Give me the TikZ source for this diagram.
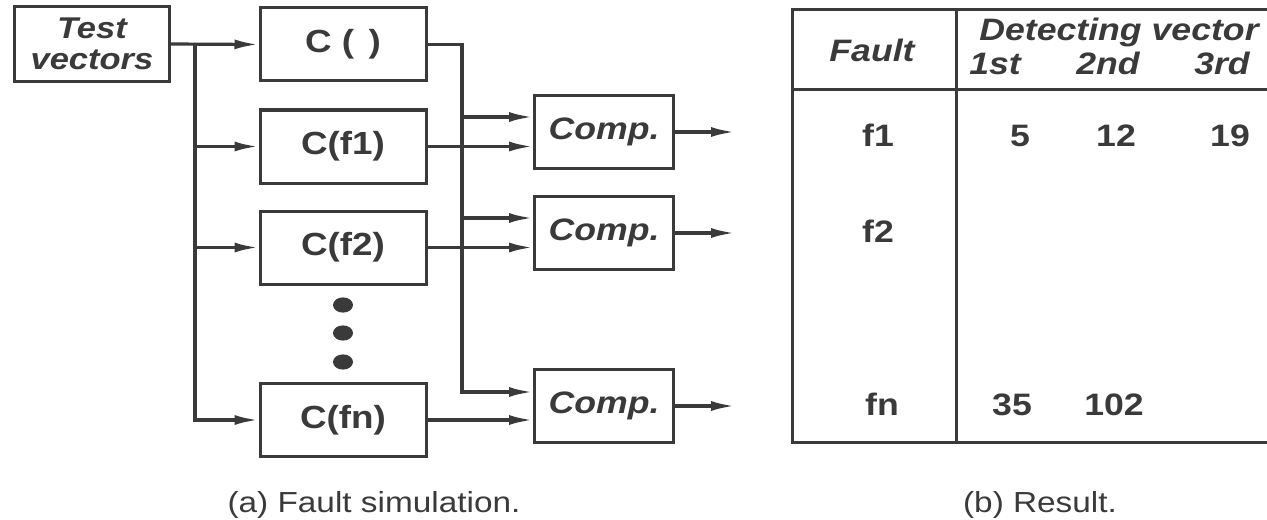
\documentclass[tikz,border=0pt]{standalone}
\usepackage{fontspec}
\setmainfont[FakeStretch=1.15]{Liberation Sans}
\usetikzlibrary{arrows.meta,positioning,calc}
\definecolor{ink}{HTML}{3A3A3A}

\begin{document}
\begin{tikzpicture}[x=0.5pt,y=-0.5pt,>={Latex[length=12pt,width=5pt]},
  wire/.style={->,line width=1.6pt,draw=ink},
  rule/.style={line width=1.5pt,draw=ink},
  blk/.style={draw=ink,line width=1.5pt,fill=white,minimum width=83pt,minimum height=36.5pt,
    inner sep=0pt,text=ink,font=\fontsize{16}{18}\selectfont\bfseries},
  cmp/.style={blk,minimum width=69.5pt,font=\fontsize{15.5}{18}\selectfont\bfseries\itshape},
  cell/.style={anchor=base,inner sep=0pt,text=ink,font=\fontsize{15.5}{18}\selectfont\bfseries},
  hd/.style={cell,font=\fontsize{15.5}{18}\selectfont\bfseries\itshape},
  captxt/.style={anchor=base,inner sep=0pt,text=ink,font=\fontsize{14.5}{17}\selectfont}]
\useasboundingbox (0,0) rectangle (1267,519);
% (a) fault simulation
\node[blk,minimum width=77.5pt,minimum height=37.5pt,align=center,
  font=\fontsize{15}{15.5}\selectfont\bfseries\itshape] (tv) at (92,44) {Test\\vectors};
\node[blk] (c0) at (343,44.5) {C (\hspace{0.45em})};
\node[blk] (c1) at (343,146.5) {C(f1)};
\node[blk] (c2) at (343,247.5) {C(f2)};
\node[blk] (cn) at (343,420) {C(fn)};
\foreach \y in {305,333,362}
  \fill[ink] (343,\y) ellipse [x radius=5pt,y radius=3.8pt];
\node[cmp] (k1) at (604,132) {Comp.};
\node[cmp] (k2) at (604,233) {Comp.};
\node[cmp] (k3) at (604,406) {Comp.};
\coordinate (bus) at (195,44);
\coordinate (ref) at (462,44.5);
\coordinate (k1a) at ([yshift=7.5pt]k1.west);
\coordinate (k2a) at ([yshift=7.5pt]k2.west);
\coordinate (k3a) at ([yshift=7pt]k3.west);
\coordinate (o1) at (735,132);
\coordinate (o2) at (735,233);
\coordinate (o3) at (735,406);
\draw[wire] (tv.east) -- (c0.west);
\draw[wire] (bus) |- (cn.west);
\draw[wire] (bus |- c1.west) -- (c1.west);
\draw[wire] (bus |- c2.west) -- (c2.west);
\draw[wire] (c0.east) -- (ref) |- (k3a);
\draw[wire] (ref |- k1a) -- (k1a);
\draw[wire] (ref |- k2a) -- (k2a);
\draw[wire] (c1.east) -- (c1.east -| k1.west);
\draw[wire] (c2.east) -- (c2.east -| k2.west);
\draw[wire] (cn.east) -- (cn.east -| k3.west);
\draw[wire] (k1.east) -- (o1);
\draw[wire] (k2.east) -- (o2);
\draw[wire] (k3.east) -- (o3);
\node[captxt] (capa) at (374,512) {(a) Fault simulation.};
% (b) result table
\draw[rule] (1267,10) -- (792,10) -- (792,442) -- (1267,442);
\draw[rule] (792,90) -- (1267,90);
\draw[rule] (956,10) -- (956,442);
\node[hd] (fault) at (872,62) {Fault};
\node[hd] (detect) at (1119,41) {Detecting vector};
\node[hd] (first) at (995,75) {1st};
\node[hd] (second) at (1108,75) {2nd};
\node[hd] (third) at (1222,75) {3rd};
\node[cell] (f1) at (878,147) {f1};
\node[cell] (f1a) at (1020,147) {5};
\node[cell] (f1b) at (1116,147) {12};
\node[cell] (f1c) at (1230,147) {19};
\node[cell] (f2) at (878,242) {f2};
\node[cell] (fn) at (882,415) {fn};
\node[cell] (fna) at (1012,415) {35};
\node[cell] (fnb) at (1114,415) {102};
\node[captxt] (capb) at (1040,512) {(b) Result.};
\end{tikzpicture}
\end{document}
